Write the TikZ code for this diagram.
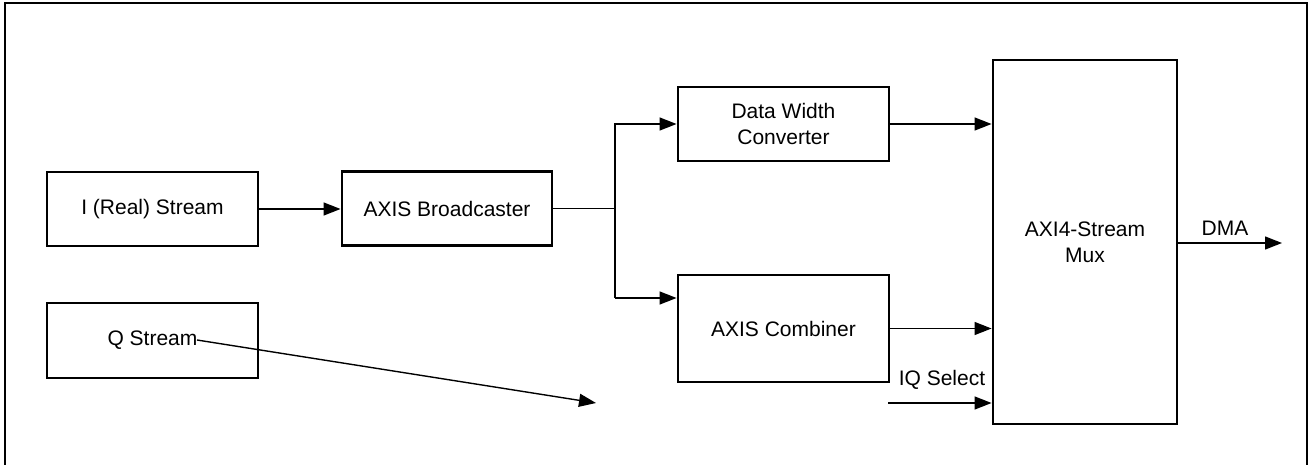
\documentclass[tikz,border=0pt]{standalone}
\usepackage{fontspec}
\setmainfont{Liberation Sans}
\usetikzlibrary{arrows.meta}
\begin{document}
\begin{tikzpicture}[x=1pt,y=-1pt,
  block/.style={draw,line width=2.9pt,rectangle,inner sep=0pt,align=center,
    font=\fontsize{21}{26}\selectfont},
  label/.style={inner sep=0pt,font=\fontsize{21}{26}\selectfont},
  wire/.style={line width=1.4pt},
  arr/.style={wire,-{Triangle[length=17pt,width=13pt]}}]
  \useasboundingbox (0,0) rectangle (1310,465);
  % outer frame
  \draw[line width=1.4pt] (5,465) -- (5,3) -- (1307,3) -- (1307,465);

  % blocks
  \node[block,minimum width=211pt,minimum height=74pt] (ist) at (152.5,209) {I (Real) Stream};
  \node[block,minimum width=211pt,minimum height=75pt] (qst) at (152.5,340.5) {Q Stream};
  \node[block,minimum width=210pt,minimum height=74pt] (bc) at (447,208.5) {AXIS Broadcaster};
  \node[block,minimum width=211pt,minimum height=74pt] (dwc) at (783.5,124) {Data Width\\Converter};
  \node[block,minimum width=211pt,minimum height=107pt] (comb) at (783.5,328.5) {AXIS Combiner};
  \node[block,minimum width=184pt,minimum height=364pt] (mux) at (1085,242) {AXI4-Stream\\Mux};

  % connectors
  \draw[arr] (ist.east) -- (ist.east -| bc.west);
  \coordinate (j) at (615,208.5);
  \coordinate (jb) at (615,298);
  \draw[wire] (bc.east) -- (j) -- (jb);
  \draw[arr] (j) |- (dwc.west);
  \draw[arr] (jb) -- (jb -| comb.west);
  \draw[arr] (dwc.east) -- (dwc.east -| mux.west);
  \draw[arr] (comb.east) -- (comb.east -| mux.west);

  \coordinate (iqs) at (888,403);
  \draw[arr] (iqs) -- (iqs -| mux.west);
  \node[label] (iqlbl) at (942,380) {IQ Select};

  \coordinate (dma) at (1282,243);
  \draw[arr] (mux.east |- dma) -- (dma);
  \node[label] (dmalbl) at (1225,228) {DMA};

  \coordinate (qa) at (197,340);
  \coordinate (qb) at (596,403);
  \draw[arr] (qa) -- (qb);
\end{tikzpicture}
\end{document}
